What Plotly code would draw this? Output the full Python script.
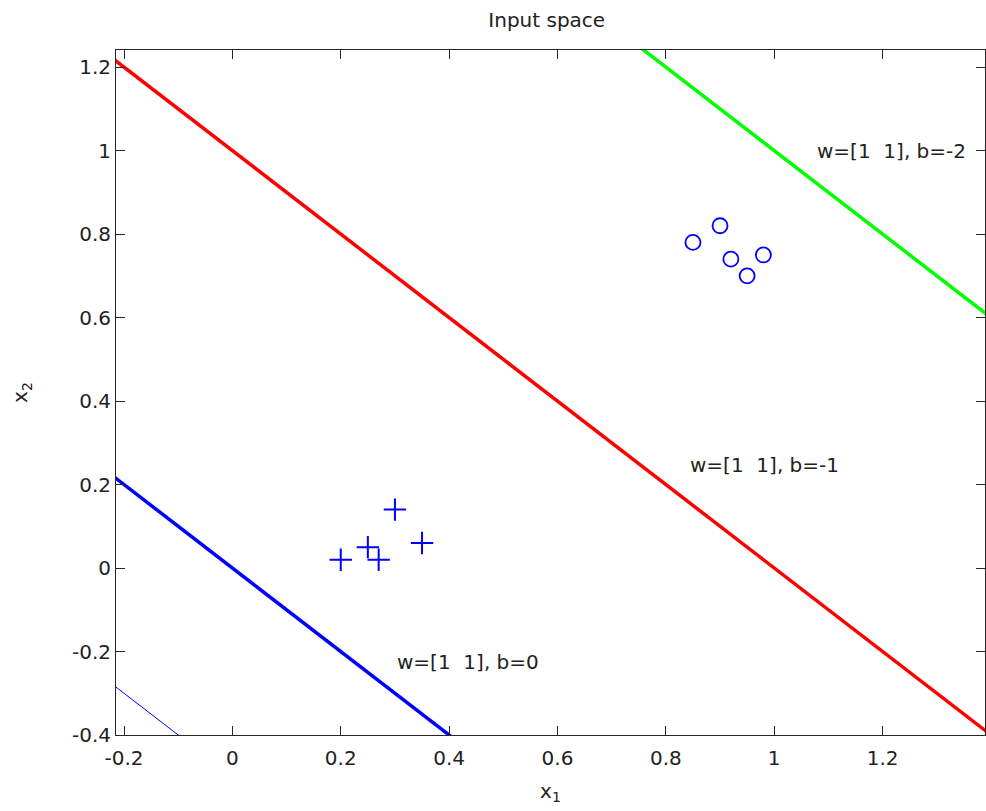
import plotly.graph_objects as go

# ---- data ----
class_a_x1 = [0.20, 0.25, 0.27, 0.30, 0.35]   # '+' points
class_a_x2 = [0.02, 0.05, 0.02, 0.14, 0.06]
class_b_x1 = [0.85, 0.90, 0.92, 0.95, 0.98]   # 'o' points
class_b_x2 = [0.78, 0.82, 0.74, 0.70, 0.75]

weights = [1, 1]
biases = [0, -1, -2]
bias_colors = ["#0000ff", "#ff0000", "#00ff00"]
extra_bias = 0.5  # thin blue line

label_texts = ["w=[1  1], b=0", "w=[1  1], b=-1", "w=[1  1], b=-2"]
label_x = [0.30, 0.84, 1.075]
label_y = [-0.225, 0.248, 1.0]

x_range = [-0.2148, 1.389]
y_range = [-0.4, 1.241]
x_tickvals = [-0.2, 0, 0.2, 0.4, 0.6, 0.8, 1.0, 1.2]
x_ticktext = ["-0.2", "0", "0.2", "0.4", "0.6", "0.8", "1", "1.2"]
y_tickvals = [-0.4, -0.2, 0, 0.2, 0.4, 0.6, 0.8, 1.0, 1.2]
y_ticktext = ["-0.4", "-0.2", "0", "0.2", "0.4", "0.6", "0.8", "1", "1.2"]

FONT = "DejaVu Sans"
TXT = "#222"
fig = go.Figure()

# decision boundaries w1*x1 + w2*x2 + b = 0
line_x = [-2.0, 3.0]
def boundary(b):
    return [(-b - weights[0] * x) / weights[1] for x in line_x]

fig.add_trace(go.Scatter(x=line_x, y=boundary(extra_bias), mode="lines",
                         line=dict(color="#0000ff", width=1), showlegend=False))
for b, c in zip(biases, bias_colors):
    fig.add_trace(go.Scatter(x=line_x, y=boundary(b), mode="lines",
                             line=dict(color=c, width=3.5), showlegend=False))

fig.add_trace(go.Scatter(x=class_a_x1, y=class_a_x2, mode="markers",
                         marker=dict(symbol="cross-thin-open", size=16, color="#0000ff",
                                     line=dict(color="#0000ff", width=2)),
                         showlegend=False))
fig.add_trace(go.Scatter(x=class_b_x1, y=class_b_x2, mode="markers",
                         marker=dict(symbol="circle-open", size=15, color="#0000ff",
                                     line=dict(color="#0000ff", width=1.8)),
                         showlegend=False))

for t, x, y in zip(label_texts, label_x, label_y):
    fig.add_annotation(x=x, y=y, text=t, showarrow=False, xanchor="left",
                       yanchor="middle", font=dict(family=FONT, size=20, color=TXT))

axis_common = dict(showline=True, linecolor="#262626", linewidth=1, mirror="ticks",
                   ticks="inside", ticklen=9, tickcolor="#262626", showgrid=False,
                   zeroline=False, tickfont=dict(family=FONT, size=20, color=TXT))

fig.update_layout(
    width=986, height=811,
    margin=dict(l=116, r=1, t=50, b=76, autoexpand=False),
    paper_bgcolor="white", plot_bgcolor="white",
    title=dict(text="Input space", x=0.5545, xanchor="center", y=0.975, yanchor="middle",
               font=dict(family=FONT, size=20, color=TXT)),
    xaxis=dict(range=x_range, tickvals=x_tickvals, ticktext=x_ticktext,
               ticklabelstandoff=5,
               title=dict(text="x<sub>1</sub>", font=dict(family=FONT, size=20, color=TXT),
                          standoff=14),
               **axis_common),
    yaxis=dict(range=y_range, tickvals=y_tickvals, ticktext=y_ticktext,
               title=dict(text="x<sub>2</sub>", font=dict(family=FONT, size=20, color=TXT),
                          standoff=38),
               **axis_common),
)

fig.write_html("out.html", config={"displayModeBar": False},
               post_script="document.body.style.margin='0';document.body.style.padding='0';")
